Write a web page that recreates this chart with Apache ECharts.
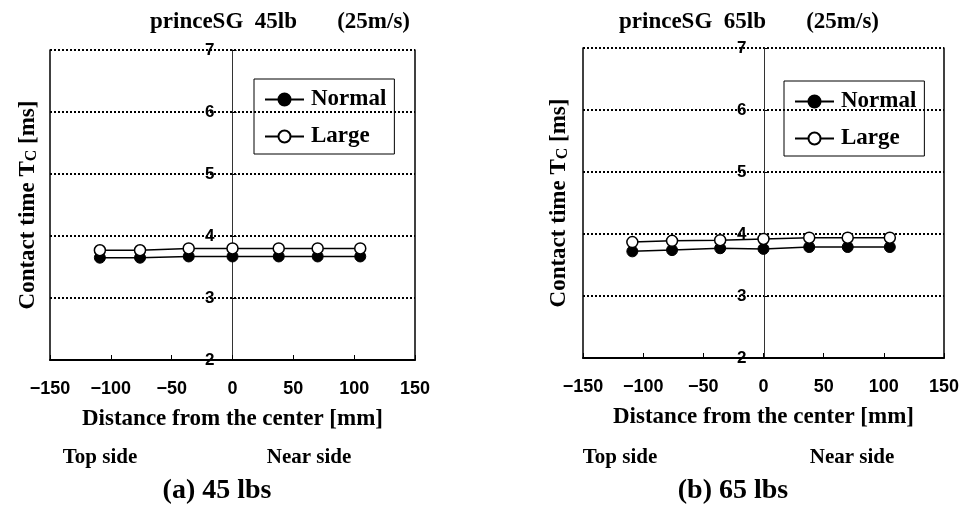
<!DOCTYPE html>
<html>
<head>
<meta charset="utf-8">
<script src="https://cdn.jsdelivr.net/npm/echarts@6/dist/echarts.min.js"></script>
<style>
  html, body { margin: 0; background: #fff; }
  #chart { width: 962px; height: 508px; }
</style>
</head>
<body>
<div id="chart"></div>
<script>
// 打点位置 (mm) 与两种拍面的接触时间 (ms)
const positions = [-109, -76, -36, 0, 38, 70, 105]
const normal45 = [3.65, 3.65, 3.67, 3.67, 3.67, 3.67, 3.67]
const large45 = [3.77, 3.77, 3.80, 3.80, 3.80, 3.80, 3.80]
const normal65 = [3.72, 3.74, 3.77, 3.76, 3.79, 3.79, 3.79]
const large65 = [3.87, 3.89, 3.90, 3.92, 3.94, 3.94, 3.94]

const xMin = -150, xMax = 150, xStep = 50
const yMin = 2, yMax = 7, yStep = 1

const panelTitles = ['princeSG  45lb       (25m/s)', 'princeSG  65lb       (25m/s)']
const captions = ['(a) 45 lbs', '(b) 65 lbs']
const sideLabels = ['Top side', 'Near side']
const xName = 'Distance from the center [mm]'

const serif = 'Liberation Serif'
const sans = 'Liberation Sans'

const pairs = (vals) => positions.map((x, i) => [x, vals[i]])

const grids = [
  { left: 50, top: 50, width: 365, height: 310 },
  { left: 583, top: 48, width: 363, height: 310 }
]

function makeXAxis (gi) {
  return {
    gridIndex: gi,
    type: 'value',
    min: xMin,
    max: xMax,
    interval: xStep,
    axisLine: { onZero: false, lineStyle: { color: '#000', width: 2 } },
    axisTick: { inside: true, length: 5, lineStyle: { color: '#000', width: 1 } },
    axisLabel: {
      margin: 20,
      color: '#000',
      fontFamily: sans,
      fontWeight: 'bold',
      fontSize: 18,
      formatter: v => (v < 0 ? '\u2212' + Math.abs(v) : String(v))
    },
    splitLine: { show: false },
    name: xName,
    nameLocation: 'middle',
    nameGap: 48,
    nameTextStyle: { fontFamily: serif, fontWeight: 'bold', fontSize: 23, color: '#000' }
  }
}

function makeYAxes (gi, nameGap) {
  const half = grids[gi].width / 2
  return [{
    // 中间的竖线 (x = 0)，用 offset 挪到中间，刻度标签在它左边
    gridIndex: gi,
    type: 'value',
    position: 'left',
    offset: -half,
    min: yMin,
    max: yMax,
    interval: yStep,
    axisLine: { show: true, onZero: false, lineStyle: { color: '#333', width: 1 } },
    axisTick: { show: true, inside: true, length: 4, lineStyle: { color: '#000' } },
    axisLabel: {
      margin: 18,
      padding: [5, 0, 0, 0],
      color: '#000',
      fontFamily: sans,
      fontWeight: 'bold',
      fontSize: 17
    },
    splitLine: { show: true, lineStyle: { color: '#000', width: 2, type: [2, 2] } }
  }, {
    gridIndex: gi,
    type: 'value',
    position: 'left',
    min: yMin,
    max: yMax,
    axisLine: { show: true, onZero: false, lineStyle: { color: '#000', width: 1.5 } },
    axisTick: { show: false },
    axisLabel: { show: false },
    splitLine: { show: false },
    name: '{a|Contact time T}{s|C}{a| [ms]}',
    nameLocation: 'middle',
    nameRotate: 90,
    nameGap: nameGap,
    nameTextStyle: {
      rich: {
        a: { fontFamily: serif, fontWeight: 'bold', fontSize: 23, color: '#000' },
        s: { fontFamily: serif, fontWeight: 'bold', fontSize: 16, color: '#000', padding: [6, 0, 0, 0] }
      }
    }
  }, {
    gridIndex: gi,
    type: 'value',
    position: 'right',
    min: yMin,
    max: yMax,
    axisLine: { show: true, onZero: false, lineStyle: { color: '#000', width: 1.5 } },
    axisTick: { show: false },
    axisLabel: { show: false },
    splitLine: { show: false }
  }]
}

function makeSeries (name, vals, gi, filled) {
  return {
    name: name,
    type: 'line',
    xAxisIndex: gi,
    yAxisIndex: gi * 3,
    data: pairs(vals),
    symbol: 'circle',
    symbolSize: 11,
    z: 5,
    lineStyle: { color: '#000', width: 1.5 },
    itemStyle: filled
      ? { color: '#000', borderColor: '#000', borderWidth: 1 }
      : { color: '#fff', borderColor: '#000', borderWidth: 1.5 }
  }
}

function makeLegend (left, top) {
  return {
    left: left,
    top: top,
    orient: 'vertical',
    data: ['Normal', 'Large'],
    borderColor: '#000',
    borderWidth: 1,
    borderRadius: 0,
    padding: [9, 8, 6, 10],
    itemGap: 14,
    itemWidth: 39,
    itemHeight: 15,
    selectedMode: false,
    textStyle: { fontFamily: serif, fontWeight: 'bold', fontSize: 23, color: '#000', padding: [0, 0, 0, 2] }
  }
}

function makeText (text, x, y, size) {
  return {
    text: text,
    left: x,
    top: y,
    padding: 0,
    textAlign: 'center',
    textVerticalAlign: 'middle',
    textStyle: { fontFamily: serif, fontWeight: 'bold', fontSize: size, color: '#000' }
  }
}

const myChart = echarts.init(document.getElementById('chart'))
myChart.setOption({
  animation: false,
  backgroundColor: '#fff',
  title: [
    makeText(panelTitles[0], 280, 22, 23),
    makeText(panelTitles[1], 749, 22, 23),
    makeText(sideLabels[0], 100, 458, 21),
    makeText(sideLabels[1], 309, 458, 21),
    makeText(sideLabels[0], 620, 458, 21),
    makeText(sideLabels[1], 852, 458, 21),
    makeText(captions[0], 217, 491, 28),
    makeText(captions[1], 733, 491, 28)
  ],
  legend: [makeLegend(254, 79), makeLegend(784, 81)],
  grid: grids,
  xAxis: [makeXAxis(0), makeXAxis(1)],
  yAxis: makeYAxes(0, 10).concat(makeYAxes(1, 12)),
  series: [
    makeSeries('Normal', normal45, 0, true),
    makeSeries('Large', large45, 0, false),
    makeSeries('Normal', normal65, 1, true),
    makeSeries('Large', large65, 1, false)
  ]
})
</script>
</body>
</html>
